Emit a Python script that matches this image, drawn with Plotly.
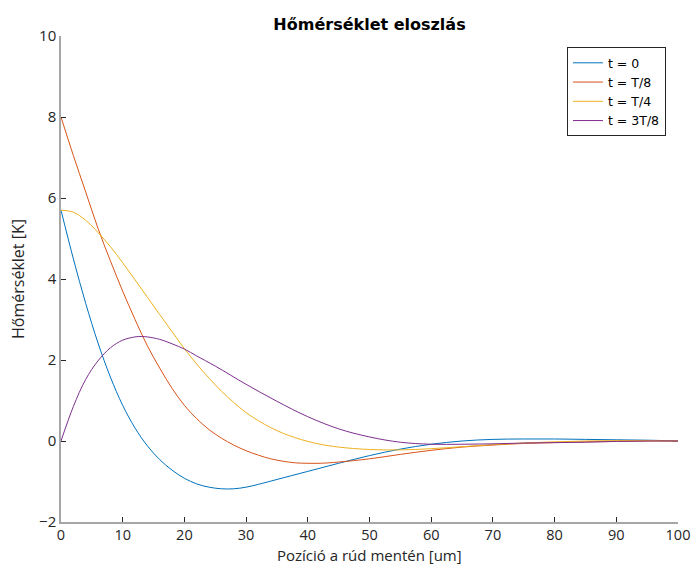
import plotly.graph_objects as go

# Positions along the rod [um]
x_blue = [0, 2, 4, 6, 8, 10, 12, 14, 16, 18, 20, 22, 24, 26, 28, 30, 32, 35, 40, 45, 50, 55, 60, 65, 70, 75, 80, 85, 90, 95, 100]
y_blue = [5.7, 4.5, 3.4, 2.42, 1.58, 0.88, 0.32, -0.12, -0.46, -0.72, -0.92, -1.06, -1.14, -1.18, -1.18, -1.14, -1.07, -0.95, -0.75, -0.55, -0.36, -0.2, -0.08, 0.0, 0.04, 0.05, 0.05, 0.04, 0.03, 0.02, 0.0]

x_red = [0, 2, 4, 6, 8, 10, 12, 14, 16, 18, 20, 22, 24, 26, 28, 30, 32, 34, 36, 38, 40, 42, 45, 50, 55, 60, 65, 70, 75, 80, 85, 90, 95, 100]
y_red = [8.0, 7.05, 6.15, 5.25, 4.45, 3.7, 3.0, 2.35, 1.8, 1.3, 0.88, 0.55, 0.28, 0.07, -0.1, -0.24, -0.35, -0.44, -0.5, -0.54, -0.55, -0.55, -0.52, -0.44, -0.33, -0.23, -0.15, -0.1, -0.06, -0.04, -0.02, -0.01, 0.0, 0.0]

x_yel = [0, 2, 4, 6, 8, 10, 12, 14, 16, 18, 20, 22, 24, 26, 28, 30, 32, 34, 36, 38, 40, 42, 45, 50, 55, 60, 65, 70, 75, 80, 85, 90, 95, 100]
y_yel = [5.7, 5.65, 5.45, 5.15, 4.8, 4.4, 3.98, 3.55, 3.12, 2.7, 2.28, 1.9, 1.55, 1.23, 0.95, 0.7, 0.5, 0.33, 0.19, 0.08, -0.01, -0.08, -0.15, -0.21, -0.22, -0.19, -0.14, -0.09, -0.05, -0.02, 0.0, 0.01, 0.01, 0.0]

x_pur = [0, 2, 4, 6, 8, 10, 12, 13, 14, 16, 18, 20, 22, 25, 30, 35, 40, 45, 50, 55, 60, 65, 70, 75, 80, 85, 90, 95, 100]
y_pur = [0.0, 0.85, 1.52, 1.98, 2.3, 2.49, 2.57, 2.58, 2.57, 2.51, 2.4, 2.27, 2.1, 1.85, 1.4, 0.98, 0.6, 0.3, 0.1, -0.03, -0.08, -0.08, -0.07, -0.05, -0.04, -0.03, -0.01, 0.0, 0.0]

names = ["t = 0", "t = T/8", "t = T/4", "t = 3T/8"]
colors = ["#0072BD", "#D95319", "#EDB120", "#7E2F8E"]
series = [(x_blue, y_blue), (x_red, y_red), (x_yel, y_yel), (x_pur, y_pur)]

x_ticks = [0, 10, 20, 30, 40, 50, 60, 70, 80, 90, 100]
y_ticks = [-2, 0, 2, 4, 6, 8, 10]

fig = go.Figure()
for (xs, ys), n, c in zip(series, names, colors):
    fig.add_trace(go.Scatter(x=xs, y=ys, mode="lines", name=n,
                             line=dict(color=c, width=1, shape="spline", smoothing=1.0)))

font = "Open Sans, sans-serif"
plot_h = 565 - 36 - 43
fig.update_layout(
    width=692, height=565,
    margin=dict(l=61, r=14, t=36, b=43, autoexpand=False),
    paper_bgcolor="white", plot_bgcolor="white",
    font=dict(family=font, size=15, color="#262626"),
    title=dict(text="<b>Hőmérséklet eloszlás</b>", x=(61 + 678) / 2 / 692, xanchor="center",
               y=1 - 24 / 565, yanchor="middle",
               font=dict(family="DejaVu Sans, sans-serif", size=16, color="#000000"),
               automargin=False),
    showlegend=True,
    legend=dict(x=0.9805, y=0.977, xanchor="right", yanchor="top",
                bgcolor="white", bordercolor="#262626", borderwidth=1,
                font=dict(family="DejaVu Sans, sans-serif", size=12.5, color="#000000"),
                tracegroupgap=0, itemwidth=30),
    annotations=[dict(text="Pozíció a rúd mentén [um]", xref="paper", yref="paper",
                      x=0.5, y=-(555 - 522) / plot_h, xanchor="center", yanchor="middle",
                      showarrow=False, font=dict(size=15, color="#262626"))],
)
fig.update_xaxes(range=[0, 100], tickvals=x_ticks, ticks="inside", ticklen=5,
                 tickfont=dict(size=14.5), ticklabelstandoff=-1,
                 tickcolor="#262626", showline=True, linecolor="#a6a6a6", linewidth=1.5,
                 showgrid=False, zeroline=False, mirror=False, automargin=False)
fig.update_yaxes(range=[-2, 10], tickvals=y_ticks, ticks="inside", ticklen=5,
                 tickcolor="#262626", showline=True, linecolor="#a6a6a6", linewidth=1.5,
                 showgrid=False, zeroline=False, mirror=False, automargin=False,
                 title=dict(text="Hőmérséklet [K]", font=dict(size=16), standoff=10))

fig.write_html("out.html")
